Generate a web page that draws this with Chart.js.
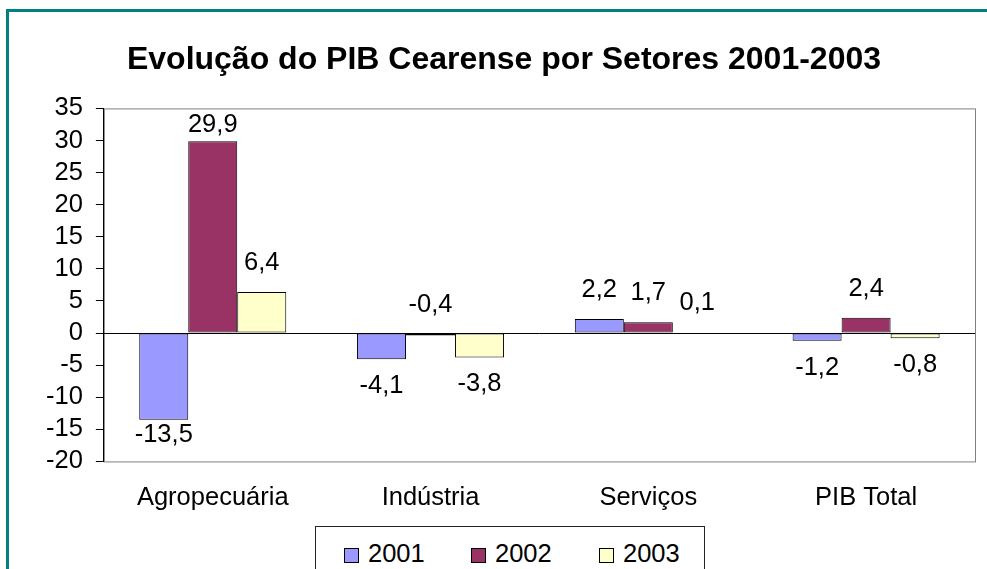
<!DOCTYPE html>
<html>
<head>
<meta charset="utf-8">
<script src="https://cdn.jsdelivr.net/npm/chart.js@4/dist/chart.umd.min.js"></script>
<style>
  html, body { margin: 0; padding: 0; background: #fff; overflow: hidden; width: 987px; height: 569px; }
  #frame { position: absolute; left: 6px; top: 9px; width: 1000px; height: 600px; border: 3px solid #008080; box-sizing: border-box; }
  #wrap { position: absolute; left: 9px; top: 12px; width: 990px; height: 557px; }
  #legend {
    position: absolute; left: 315px; top: 526px; width: 390px; height: 60px;
    border: 1px solid #222; box-sizing: border-box; background: #fff;
    font-family: "Liberation Sans", Arial, sans-serif; font-size: 25.5px; color: #000;
  }
  #legend .item { position: absolute; top: 11px; line-height: 30px; white-space: nowrap; }
  #legend .box { display: inline-block; width: 13px; height: 13px; border: 1px solid #000; margin-right: 9px; vertical-align: -1px; }
</style>
</head>
<body>
<div id="frame"></div>
<div id="wrap"><canvas id="chart"></canvas></div>
<div id="legend"></div>
<script>
const categories = ["Agropecuária", "Indústria", "Serviços", "PIB Total"];
const seriesNames = ["2001", "2002", "2003"];
const values2001 = [-13.5, -4.1, 2.2, -1.2];
const values2002 = [29.9, -0.4, 1.7, 2.4];
const values2003 = [6.4, -3.8, 0.1, -0.8];
const colors = ["#9999FF", "#993366", "#FFFFCC"];
const yTicks = [-20, -15, -10, -5, 0, 5, 10, 15, 20, 25, 30, 35];

const $ = (id) => document.getElementById(id);
const FONT = '"Liberation Sans", Arial, sans-serif';
const FS = 25.5;

function fmt(v) {
  return v.toFixed(1).replace(".", ",");
}

// plot area border (gray), drawn under the axes
const plotBorder = {
  id: "plotBorder",
  beforeDraw(chart) {
    const { ctx, chartArea: a } = chart;
    ctx.save();
    ctx.strokeStyle = "#808080";
    ctx.lineWidth = 1;
    ctx.strokeRect(a.left + 0.5, a.top + 0.5, a.right - a.left, a.bottom - a.top);
    ctx.restore();
  },
};

// value labels like the Excel original
const valueLabels = {
  id: "valueLabels",
  afterDatasetsDraw(chart) {
    const { ctx, chartArea: a } = chart;
    ctx.save();
    ctx.font = `${FS}px ${FONT}`;
    ctx.fillStyle = "#000";
    ctx.textAlign = "center";
    ctx.textBaseline = "middle";
    chart.data.datasets.forEach((ds, i) => {
      chart.getDatasetMeta(i).data.forEach((bar, j) => {
        const v = ds.data[j];
        let y;
        if (v >= -0.5) {
          y = Math.max(Math.min(bar.y, bar.base) - 29, a.top + 17);
        } else {
          y = bar.y + (Math.abs(v) > 10 ? 15 : 27);
        }
        ctx.fillText(fmt(v), bar.x, y);
      });
    });
    ctx.restore();
  },
};

const seriesValues = [values2001, values2002, values2003];

new Chart($("chart"), {
  type: "bar",
  data: {
    labels: categories,
    datasets: seriesNames.map((name, i) => ({
      label: name,
      data: seriesValues[i],
      backgroundColor: colors[i],
      borderColor: "#000",
      borderWidth: 1,
      borderSkipped: false,
      categoryPercentage: 0.675,
      barPercentage: 1,
    })),
  },
  options: {
    responsive: true,
    maintainAspectRatio: false,
    animation: false,
    layout: { padding: { left: 24, right: 24, top: 0, bottom: 35 } },
    plugins: {
      legend: { display: false },
      tooltip: { enabled: false },
      title: {
        display: true,
        text: "Evolução do PIB Cearense por Setores 2001-2003",
        color: "#000",
        font: { family: FONT, size: 32, weight: "bold" },
        padding: { top: 29, bottom: 29 },
      },
    },
    scales: {
      x: {
        grid: { display: false, drawTicks: false },
        border: { display: false },
        ticks: { color: "#000", font: { family: FONT, size: FS }, padding: 21 },
      },
      y: {
        min: -20,
        max: 35,
        afterBuildTicks: (scale) => { scale.ticks = yTicks.map((v) => ({ value: v })); },
        ticks: { color: "#000", font: { family: FONT, size: FS }, padding: 13, autoSkip: false },
        grid: {
          color: (c) => (c.tick && c.tick.value === 0 ? "#000" : "rgba(0,0,0,0)"),
          tickColor: "#000",
          tickLength: 8,
        },
        border: { color: "#000", width: 1 },
      },
    },
  },
  plugins: [plotBorder, valueLabels],
});

// legend as html box
const legendPos = [28, 155, 283];
$("legend").innerHTML = seriesNames
  .map((name, i) => `<span class="item" style="left:${legendPos[i]}px"><span class="box" style="background:${colors[i]}"></span>${name}</span>`)
  .join("");
</script>
</body>
</html>
